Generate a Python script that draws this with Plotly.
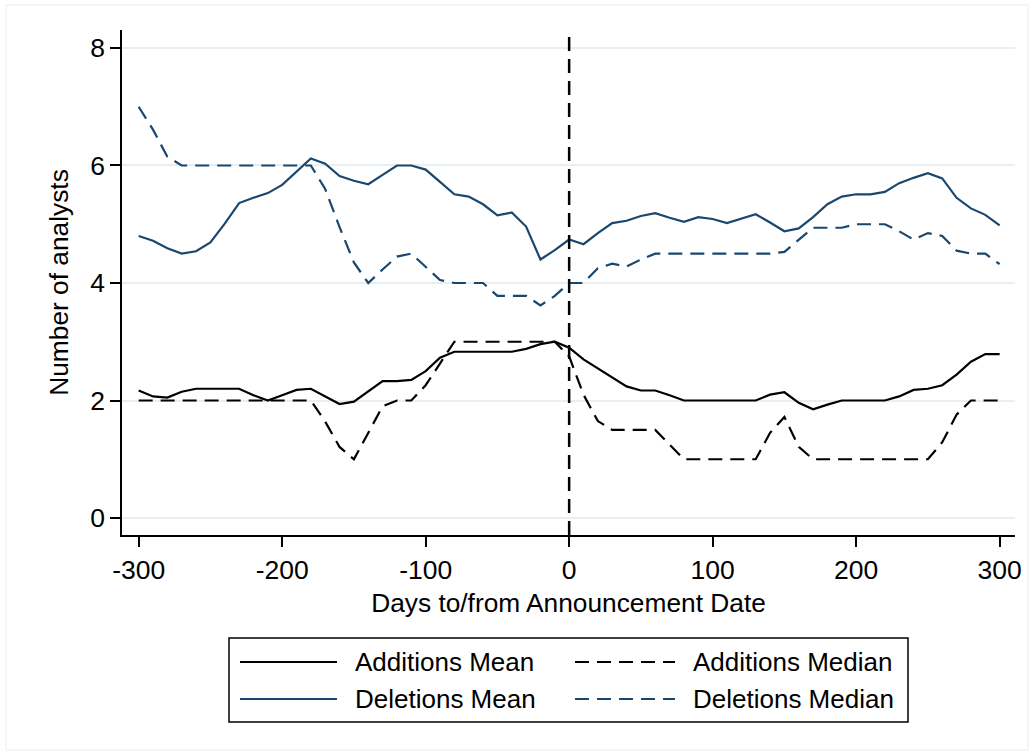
import plotly.graph_objects as go

days = [-300, -290, -280, -270, -260, -250, -240, -230, -220, -210,
        -200, -190, -180, -170, -160, -150, -140, -130, -120, -110,
        -100, -90, -80, -70, -60, -50, -40, -30, -20, -10,
        0,
        10, 20, 30, 40, 50, 60, 70, 80, 90, 100,
        110, 120, 130, 140, 150, 160, 170, 180, 190, 200,
        210, 220, 230, 240, 250, 260, 270, 280, 290, 300]

additions_mean = [2.17, 2.07, 2.05, 2.15, 2.20, 2.20, 2.20, 2.20, 2.09, 2.00,
                  2.09, 2.18, 2.20, 2.07, 1.94, 1.98, 2.16, 2.33, 2.33, 2.35,
                  2.50, 2.73, 2.83, 2.83, 2.83, 2.83, 2.83, 2.88, 2.96, 3.00,
                  2.90,
                  2.70, 2.55, 2.39, 2.24, 2.17, 2.17, 2.09, 2.00, 2.00, 2.00,
                  1.99, 1.99, 2.00, 2.10, 2.14, 1.96, 1.85, 1.93, 2.00, 2.00,
                  2.00, 2.00, 2.07, 2.18, 2.20, 2.26, 2.44, 2.66, 2.79, 2.79]

additions_median = [2.0, 2.0, 2.0, 2.0, 2.0, 2.0, 2.0, 2.0, 2.0, 2.0,
                    2.0, 2.0, 2.0, 1.64, 1.21, 1.0, 1.45, 1.9, 2.0, 2.0,
                    2.26, 2.63, 3.0, 3.0, 3.0, 3.0, 3.0, 3.0, 3.0, 3.0,
                    2.75,
                    2.1, 1.65, 1.5, 1.5, 1.5, 1.5, 1.25, 1.0, 1.0, 1.0,
                    1.0, 1.0, 1.0, 1.45, 1.72, 1.21, 1.0, 1.0, 1.0, 1.0,
                    1.0, 1.0, 1.0, 1.0, 1.0, 1.29, 1.76, 2.0, 2.0, 2.0]

deletions_mean = [4.80, 4.72, 4.59, 4.50, 4.54, 4.69, 5.01, 5.36, 5.45, 5.53,
                  5.67, 5.90, 6.12, 6.03, 5.82, 5.74, 5.68, 5.84, 6.00, 6.00,
                  5.93, 5.72, 5.51, 5.47, 5.34, 5.15, 5.20, 4.96, 4.40, 4.56,
                  4.74,
                  4.66, 4.85, 5.02, 5.06, 5.14, 5.19, 5.11, 5.04, 5.12, 5.09,
                  5.02, 5.10, 5.17, 5.03, 4.88, 4.93, 5.12, 5.34, 5.47, 5.51,
                  5.51, 5.55, 5.70, 5.79, 5.87, 5.78, 5.45, 5.27, 5.16, 4.98]

deletions_median = [7.0, 6.61, 6.15, 6.0, 6.0, 6.0, 6.0, 6.0, 6.0, 6.0,
                    6.0, 6.0, 6.0, 5.6, 4.95, 4.35, 4.0, 4.23, 4.45, 4.5,
                    4.27, 4.05, 4.0, 4.0, 4.0, 3.78, 3.78, 3.78, 3.62, 3.78,
                    4.0,
                    4.0, 4.25, 4.33, 4.28, 4.4, 4.5, 4.5, 4.5, 4.5, 4.5,
                    4.5, 4.5, 4.5, 4.5, 4.53, 4.74, 4.94, 4.94, 4.94, 5.0,
                    5.0, 5.0, 4.88, 4.74, 4.85, 4.8, 4.55, 4.5, 4.5, 4.32]

y_ticks = [0, 2, 4, 6, 8]
x_ticks = [-300, -200, -100, 0, 100, 200, 300]

series_names = ["Additions Mean", "Additions Median", "Deletions Mean", "Deletions Median"]

BLACK = "#000000"
NAVY = "#1a476f"
DASH = "14px,8px"
FONT = "Liberation Sans, Arial, sans-serif"

styles = [
    (additions_mean, BLACK, "solid"),
    (additions_median, BLACK, DASH),
    (deletions_mean, NAVY, "solid"),
    (deletions_median, NAVY, DASH),
]

fig = go.Figure()
for name, (vals, col, dash) in zip(series_names, styles):
    fig.add_trace(go.Scatter(x=days, y=vals, mode="lines", name=name,
                             line=dict(color=col, width=2.2, dash=dash),
                             showlegend=False))

# plot area geometry in pixels
L, R, T, B = 122, 1015, 30, 535
W, H = R - L, B - T


def px(x):
    return (x - L) / W


def py(y):
    return (B - y) / H


shapes = []
# vertical reference line at day 0
shapes.append(dict(type="line", xref="x", yref="paper", x0=0, x1=0, y0=0, y1=1,
                   line=dict(color=BLACK, width=2.5, dash=DASH)))
# outer faint frame
shapes.append(dict(type="rect", xref="paper", yref="paper",
                   x0=px(6), x1=px(1028), y0=py(750), y1=py(5),
                   line=dict(color="#e8eef2", width=1), layer="below"))
# legend box
shapes.append(dict(type="rect", xref="paper", yref="paper",
                   x0=px(229), x1=px(908), y0=py(722), y1=py(638),
                   line=dict(color=BLACK, width=1.5), fillcolor="white"))

annotations = []
legend_pos = [
    (240, 337, 353, 662),
    (575, 675, 691, 662),
    (240, 337, 353, 699),
    (575, 675, 691, 699),
]
for name, (vals, col, dash), (sx0, sx1, tx, ry) in zip(series_names, styles, legend_pos):
    shapes.append(dict(type="line", xref="paper", yref="paper",
                       x0=px(sx0), x1=px(sx1), y0=py(ry), y1=py(ry),
                       line=dict(color=col, width=2.2, dash=dash)))
    annotations.append(dict(xref="paper", yref="paper", x=px(tx), y=py(ry),
                            text=name, showarrow=False, xanchor="left", yanchor="middle",
                            font=dict(family=FONT, size=26, color=BLACK)))

fig.update_layout(
    width=1034, height=756,
    margin=dict(l=L, r=1034 - R, t=T, b=756 - B, pad=0),
    paper_bgcolor="white", plot_bgcolor="white",
    font=dict(family=FONT, color=BLACK, size=26),
    shapes=shapes, annotations=annotations,
    showlegend=False,
    xaxis=dict(range=[-311.6, 310.7], tickvals=x_ticks, ticktext=[str(v) for v in x_ticks],
               showgrid=False, zeroline=False, showline=True, linecolor=BLACK, linewidth=1.5,
               ticks="outside", ticklen=10, tickwidth=1.5, tickcolor=BLACK,
               tickfont=dict(family=FONT, size=26.5),
               title=dict(text="Days to/from Announcement Date", standoff=10,
                          font=dict(family=FONT, size=26.3))),
    yaxis=dict(range=[-0.289, 8.306], tickvals=y_ticks, ticktext=[str(v) for v in y_ticks],
               showgrid=True, gridcolor="#e8eff2", gridwidth=1.5,
               zeroline=False, showline=True, linecolor=BLACK, linewidth=1.5,
               ticks="outside", ticklen=10, tickwidth=1.5, tickcolor=BLACK,
               tickfont=dict(family=FONT, size=26.5),
               title=dict(text="Number of analysts", standoff=14,
                          font=dict(family=FONT, size=26.3))),
)

fig.write_html("out.html")
